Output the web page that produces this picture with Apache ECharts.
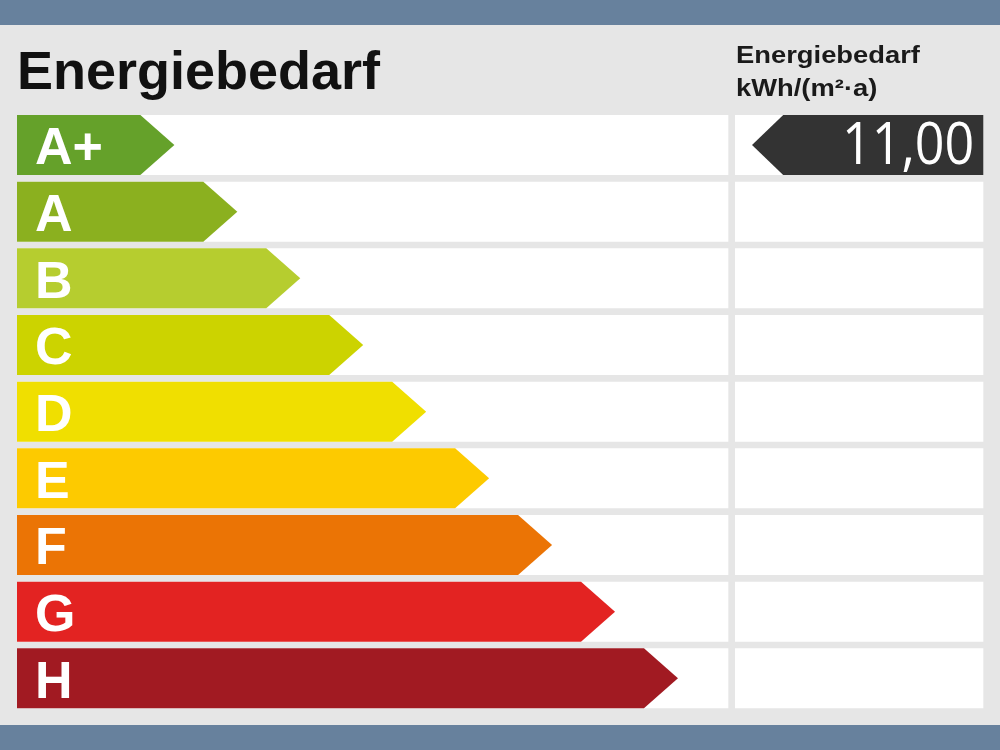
<!DOCTYPE html>
<html>
<head>
<meta charset="utf-8">
<script src="https://cdn.jsdelivr.net/npm/echarts@6/dist/echarts.min.js"></script>
<style>
  html, body { margin: 0; padding: 0; background: #e6e6e6; }
  #container { width: 1000px; height: 750px; }
</style>
</head>
<body>
<div id="container"></div>
<script>
// Energieeffizienzklassen
var classes = ['A+', 'A', 'B', 'C', 'D', 'E', 'F', 'G', 'H'];
var classColors = ['#65a12a', '#8bb01f', '#b6cd2f', '#ccd300', '#f0df00', '#fdca00', '#eb7405', '#e32322', '#a11a22'];
// Pfeillaenge je Klasse (Achseneinheiten)
var arrowReach = [2.5, 3.5, 4.5, 5.5, 6.5, 7.5, 8.5, 9.5, 10.5];
// Kennwert
var demandValue = [11.00];
var demandClassIndex = [0];

var myChart = echarts.init(document.getElementById('container'));
var AXIS_MAX = 11.3;

function rowRect(params, api) {
  var a = api.coord([0, api.value(1)]);
  var b = api.coord([api.value(0), api.value(1)]);
  var h = api.size([0, 1])[1] * 0.9;
  return { type: 'rect', shape: { x: a[0], y: a[1] - h / 2, width: b[0] - a[0], height: h }, style: { fill: '#ffffff' } };
}

function renderArrow(params, api) {
  var idx = api.value(1);
  var start = api.coord([0, idx]);
  var end = api.coord([api.value(0), idx]);
  var h = api.size([0, 1])[1] * 0.9;
  var cy = start[1], top = cy - h / 2, bot = cy + h / 2;
  var tip = h * 0.567;
  return {
    type: 'group',
    children: [
      { type: 'polygon', shape: { points: [[start[0], top], [end[0] - tip, top], [end[0], cy], [end[0] - tip, bot], [start[0], bot]] },
        style: { fill: classColors[idx] } },
      { type: 'text', style: { text: classes[idx], x: start[0] + 18, y: cy + 5, fill: '#ffffff',
        font: 'bold 52px "Liberation Sans", Arial, sans-serif', align: 'left', verticalAlign: 'middle' } }
    ]
  };
}

function renderValue(params, api) {
  var idx = api.value(1);
  var left = api.coord([0, idx]);
  var right = api.coord([AXIS_MAX, idx]);
  var h = api.size([0, 1])[1] * 0.9;
  var cy = left[1], top = cy - h / 2, bot = cy + h / 2;
  var x0 = left[0] + 34, tip = h * 0.52;
  var txt = api.value(0).toFixed(2).replace('.', ',');
  return {
    type: 'group',
    children: [
      { type: 'polygon', shape: { points: [[x0, cy], [x0 + tip, top], [right[0], top], [right[0], bot], [x0 + tip, bot]] },
        style: { fill: '#333333' } },
      { type: 'text', x: right[0] - 9, y: cy + 2, scaleY: 1.14,
        style: { text: txt, x: 0, y: 0, fill: '#ffffff',
        font: '52px "Open Sans", "Liberation Sans", Arial, sans-serif', align: 'right', verticalAlign: 'middle' } }
    ]
  };
}

var fullRows = classes.map(function (c, i) { return [AXIS_MAX, i]; });
var arrowData = arrowReach.map(function (v, i) { return [v, i]; });
var valueData = demandValue.map(function (v, i) { return [v, demandClassIndex[i]]; });

var yAxisBase = { type: 'category', data: classes, inverse: true, show: false, boundaryGap: true };
var xAxisBase = { type: 'value', min: 0, max: AXIS_MAX, show: false };

option = {
  backgroundColor: '#e6e6e6',
  animation: false,
  grid: [
    { left: 17, right: 271.67, top: 111.67, height: 600 },
    { left: 718, right: 16.67, top: 111.67, height: 600 }
  ],
  xAxis: [
    Object.assign({ gridIndex: 0 }, xAxisBase),
    Object.assign({ gridIndex: 1 }, xAxisBase)
  ],
  yAxis: [
    Object.assign({ gridIndex: 0 }, yAxisBase),
    Object.assign({ gridIndex: 1 }, yAxisBase)
  ],
  graphic: [
    { type: 'rect', left: 0, top: 0, shape: { width: 1000, height: 25 }, style: { fill: '#67819d' } },
    { type: 'rect', left: 0, top: 725, shape: { width: 1000, height: 25 }, style: { fill: '#67819d' } },
    { type: 'text', x: 17, y: 74, style: { text: 'Energiebedarf', fill: '#111111',
      font: 'bold 54px "Liberation Sans", Arial, sans-serif', verticalAlign: 'middle' } },
    { type: 'text', x: 736, y: 56, scaleX: 1.14, style: { text: 'Energiebedarf', fill: '#1a1a1a',
      font: 'bold 24px "Liberation Sans", Arial, sans-serif', verticalAlign: 'middle' } },
    { type: 'text', x: 736, y: 89, scaleX: 1.14, style: { text: 'kWh/(m²·a)', fill: '#1a1a1a',
      font: 'bold 24px "Liberation Sans", Arial, sans-serif', verticalAlign: 'middle' } }
  ],
  series: [
    { type: 'custom', xAxisIndex: 0, yAxisIndex: 0, renderItem: rowRect, data: fullRows, encode: { x: 0, y: 1 }, silent: true },
    { type: 'custom', xAxisIndex: 1, yAxisIndex: 1, renderItem: function (p, api) {
        var r = rowRect(p, api); r.shape.x += 17; r.shape.width -= 17; return r;
      }, data: fullRows, encode: { x: 0, y: 1 }, silent: true },
    { type: 'custom', name: 'Klassen', xAxisIndex: 0, yAxisIndex: 0, renderItem: renderArrow, data: arrowData, encode: { x: 0, y: 1 } },
    { type: 'custom', name: 'Energiebedarf', xAxisIndex: 1, yAxisIndex: 1, renderItem: renderValue, data: valueData, encode: { x: 0, y: 1 } }
  ]
};
myChart.setOption(option);
</script>
</body>
</html>
